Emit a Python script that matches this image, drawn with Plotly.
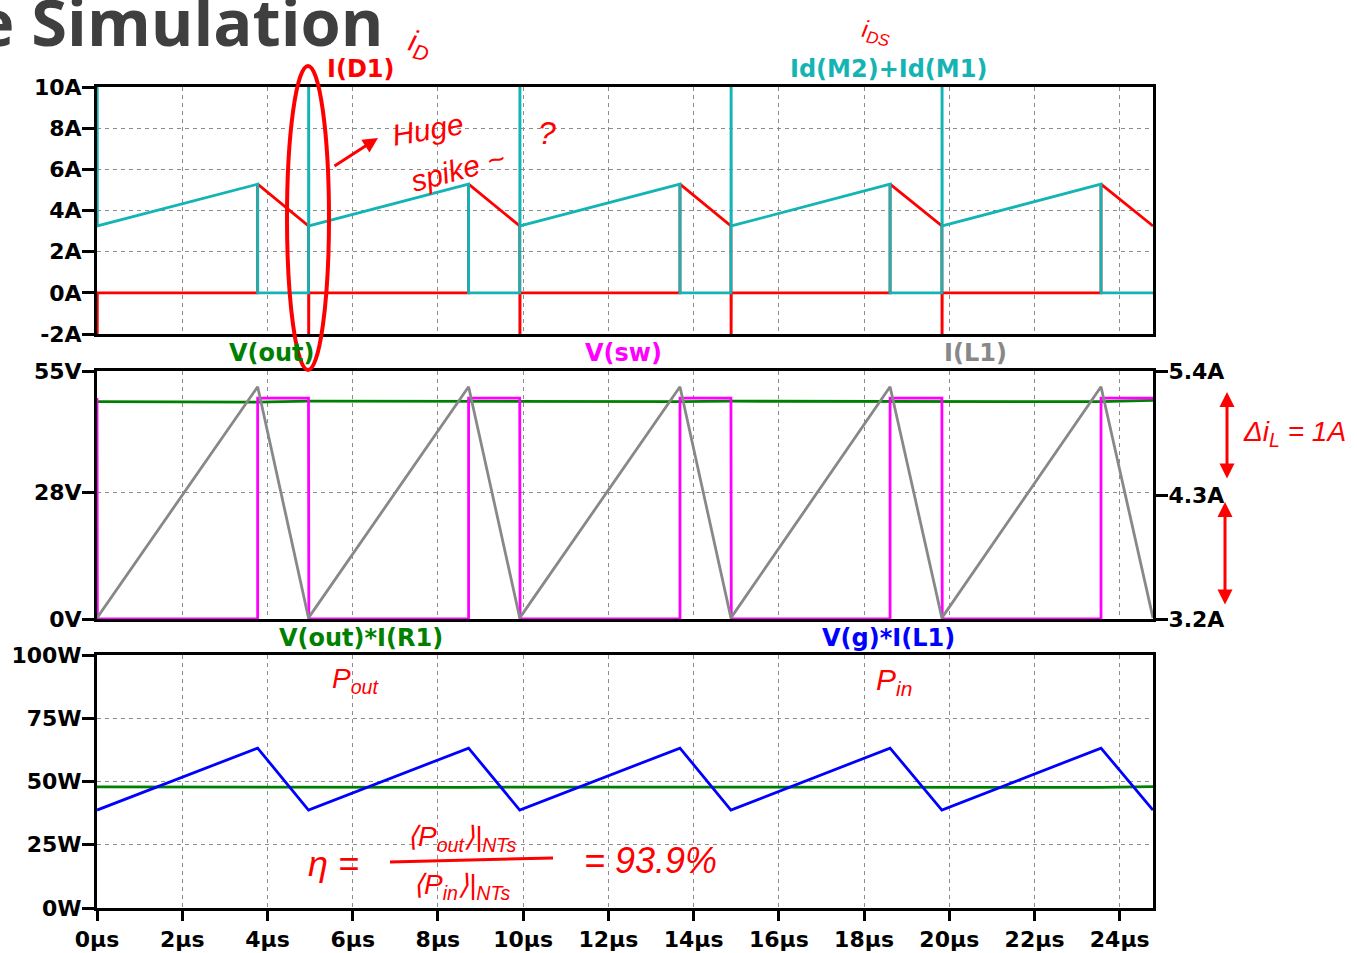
import plotly.graph_objects as go

# ---------------- data ----------------
T_ON = [0.0, 4.963, 9.92, 14.876, 19.826]      # switch turn-on instants (µs)
T_OFF = [3.77, 8.72, 13.68, 18.61, 23.56]      # switch turn-off instants (µs)
T_END = 24.78

# top panel: I(D1) and Id(M2)+Id(M1)
ISW_START = [3.25, 3.25, 3.25, 3.25, 3.25]
ISW_PEAK = [5.28, 5.28, 5.28, 5.28, 5.28]
ID_START = [5.28, 5.28, 5.28, 5.28, 5.28]
ID_END = [3.25, 3.25, 3.25, 3.25, 3.25]
SW_SPIKE = 14.0
D_SPIKE = -4.0

# middle panel
VSW_HIGH = [49.0, 49.0, 49.0, 49.0, 49.0]
VOUT_AT_ON = [48.2, 48.3, 48.3, 48.3, 48.3]
VOUT_AT_OFF = [48.1, 48.2, 48.2, 48.2, 48.2]
VOUT_END = 48.5
IL_MIN = [3.21, 3.21, 3.21, 3.21, 3.21]
IL_MAX = [5.26, 5.26, 5.26, 5.26, 5.26]
IL_END = 3.21

# bottom panel
PIN_MIN = [38.7, 38.7, 38.7, 38.7, 38.7]
PIN_MAX = [63.2, 63.2, 63.2, 63.2, 63.2]
PIN_END = 38.7
POUT_AT_ON = [47.9, 47.8, 47.8, 47.8, 47.8]
POUT_AT_OFF = [47.7, 47.7, 47.7, 47.7, 47.7]
POUT_END = 48.0

X_TICKS = [0, 2, 4, 6, 8, 10, 12, 14, 16, 18, 20, 22, 24]
X_LABELS = [f"{v}µs" for v in X_TICKS]
Y1_TICKS = [-2, 0, 2, 4, 6, 8, 10]
Y1_LABELS = ["-2A", "0A", "2A", "4A", "6A", "8A", "10A"]
Y2_TICKS = [0, 28, 55]
Y2_LABELS = ["0V", "28V", "55V"]
Y4_TICKS = [3.2, 4.3, 5.4]
Y4_LABELS = ["3.2A", "4.3A", "5.4A"]
Y3_TICKS = [0, 25, 50, 75, 100]
Y3_LABELS = ["0W", "25W", "50W", "75W", "100W"]

# ---------------- build waveforms ----------------
n = len(T_ON)
eps = 0.008

sw_t, sw_v = [], []
d_t, d_v = [], []
vs_t, vs_v = [], []
il_t, il_v = [], []
vo_t, vo_v = [], []
pi_t, pi_v = [], []
po_t, po_v = [], []
for k in range(n):
    t0, t1 = T_ON[k], T_OFF[k]
    t2 = T_ON[k + 1] if k + 1 < n else T_END
    if k > 0:
        sw_t.append(t0); sw_v.append(0)
    sw_t += [t0 + eps / 2, t0 + eps, t1, t1, t2]
    sw_v += [SW_SPIKE, ISW_START[k], ISW_PEAK[k], 0, 0]
    d_t += [t0 + eps / 2, t0 + eps, t1, t1, t2]
    d_v += [D_SPIKE, 0, 0, ID_START[k], ID_END[k]]
    if k + 1 < n:
        d_t.append(t2); d_v.append(0)
    if k == 0:
        vs_t.append(t0); vs_v.append(VSW_HIGH[k])
    vs_t += [t0 + eps, t1, t1, t2]
    vs_v += [0, 0, VSW_HIGH[k], VSW_HIGH[k]]
    il_t += [t0, t1]
    il_v += [IL_MIN[k], IL_MAX[k]]
    vo_t += [t0, t1]
    vo_v += [VOUT_AT_ON[k], VOUT_AT_OFF[k]]
    pi_t += [t0, t1]
    pi_v += [PIN_MIN[k], PIN_MAX[k]]
    po_t += [t0, t1]
    po_v += [POUT_AT_ON[k], POUT_AT_OFF[k]]
il_t.append(T_END); il_v.append(IL_END)
vo_t.append(T_END); vo_v.append(VOUT_END)
pi_t.append(T_END); pi_v.append(PIN_END)
po_t.append(T_END); po_v.append(POUT_END)

RED = "#ff0000"
TEAL = "#14b4b4"
MAG = "#ff00ff"
GREEN = "#008000"
GRAY = "#888888"
BLUE = "#0000ff"
LW = 2.8

fig = go.Figure()
fig.add_trace(go.Scatter(x=d_t, y=d_v, mode="lines", line=dict(color=RED, width=LW), xaxis="x", yaxis="y"))
fig.add_trace(go.Scatter(x=sw_t, y=sw_v, mode="lines", line=dict(color=TEAL, width=LW), xaxis="x", yaxis="y"))
fig.add_trace(go.Scatter(x=vo_t, y=vo_v, mode="lines", line=dict(color=GREEN, width=LW), xaxis="x2", yaxis="y2"))
fig.add_trace(go.Scatter(x=vs_t, y=vs_v, mode="lines", line=dict(color=MAG, width=LW), xaxis="x2", yaxis="y2"))
fig.add_trace(go.Scatter(x=il_t, y=il_v, mode="lines", line=dict(color=GRAY, width=LW), xaxis="x2", yaxis="y4"))
fig.add_trace(go.Scatter(x=po_t, y=po_v, mode="lines", line=dict(color=GREEN, width=LW), xaxis="x3", yaxis="y3"))
fig.add_trace(go.Scatter(x=pi_t, y=pi_v, mode="lines", line=dict(color=BLUE, width=LW), xaxis="x3", yaxis="y3"))

W, H = 1357, 953
ML, MR, MT, MB = 97, 204, 87, 45
PW, PH = W - ML - MR, H - MT - MB


def fx(px):
    return (px - ML) / PW


def fy(py):
    return (H - MB - py) / PH


TICKFONT = dict(family="DejaVu Sans", size=22, color="black", weight="bold")
GRID = dict(showgrid=True, gridcolor="#8c8c8c", gridwidth=1, griddash="4px,4px")
AX = dict(showline=True, linecolor="black", linewidth=3, mirror=True, zeroline=False,
          layer="below traces", tickfont=TICKFONT)

xcommon = dict(range=[0, T_END], tickvals=X_TICKS, **GRID, **AX)
YT = dict(ticks="outside", ticklen=12, tickwidth=3, tickcolor="black", ticklabelstandoff=-4)
fig.update_layout(
    xaxis=dict(domain=[0, 1], anchor="y", showticklabels=False, ticks="", **xcommon),
    xaxis2=dict(domain=[0, 1], anchor="y2", showticklabels=False, ticks="", **xcommon),
    xaxis3=dict(domain=[0, 1], anchor="y3", ticktext=X_LABELS, ticks="outside", ticklen=10,
                tickwidth=3, tickcolor="black", **xcommon),
    yaxis=dict(domain=[fy(334), fy(87)], range=[-2, 10], tickvals=Y1_TICKS, ticktext=Y1_LABELS,
               **YT, **GRID, **AX),
    yaxis2=dict(domain=[fy(619), fy(371)], range=[0, 55], tickvals=Y2_TICKS, ticktext=Y2_LABELS,
                **YT, **GRID, **AX),
    yaxis4=dict(overlaying="y2", side="right", anchor="x2", range=[3.2, 5.4], tickvals=Y4_TICKS,
                ticktext=Y4_LABELS, **YT,
                showgrid=False, showline=True, linecolor="black", linewidth=3, zeroline=False,
                layer="below traces", tickfont=TICKFONT),
    yaxis3=dict(domain=[0, fy(655)], range=[0, 100], tickvals=Y3_TICKS, ticktext=Y3_LABELS,
                **YT, **GRID, **AX),
    width=W, height=H,
    margin=dict(l=ML, r=MR, t=MT, b=MB, autoexpand=False),
    paper_bgcolor="white", plot_bgcolor="white",
    showlegend=False,
)

ann = []


def label(text, px, py, color, size=24, **kw):
    ann.append(dict(text=text, x=fx(px), y=fy(py), xref="paper", yref="paper", showarrow=False,
                    xanchor="center", yanchor="middle",
                    font=dict(family="DejaVu Sans", size=size, color=color, weight="bold"), **kw))


# trace labels
label("I(D1)", 361, 69, RED)
label("Id(M2)+Id(M1)", 888, 69, TEAL)
label("V(out)", 272, 353, GREEN)
label("V(sw)", 623, 353, MAG)
label("I(L1)", 975, 353, GRAY)
label("V(out)*I(R1)", 361, 638, GREEN)
label("V(g)*I(L1)", 888, 638, BLUE)

# slide title fragment
ann.append(dict(text="e Simulation", x=fx(386), y=fy(21), xref="paper", yref="paper", showarrow=False,
                xanchor="right", yanchor="middle",
                font=dict(family="Open Sans", size=65, color="#3f3f3f", weight="bold")))


def hand(text, px, py, size=26, angle=0):
    ann.append(dict(text=text, x=fx(px), y=fy(py), xref="paper", yref="paper", showarrow=False,
                    xanchor="center", yanchor="middle", textangle=angle,
                    font=dict(family="Liberation Sans", size=size, color=RED, style="italic")))


hand("i<sub>D</sub>", 420, 44, 30, 15)
hand("i<sub>DS</sub>", 876, 32, 24, 10)
hand("Huge", 428, 130, 30, -10)
hand("spike ~", 458, 170, 30, -15)
hand("?", 547, 133, 32)
hand("Δi<sub>L</sub> = 1A", 1294, 433, 28)
hand("P<sub>out</sub>", 355, 680, 28)
hand("P<sub>in</sub>", 894, 681, 30)
hand("η =", 333, 863, 36)
hand("⟨P<sub>out</sub>⟩|<sub>NTs</sub>", 462, 838, 28)
hand("⟨P<sub>in</sub>⟩|<sub>NTs</sub>", 462, 886, 28)
hand("= 93.9%", 650, 860, 36)


def arrow(x_head, y_head, x_tail, y_tail, both=False):
    ann.append(dict(text="", x=fx(x_head), y=fy(y_head), xref="paper", yref="paper",
                    ax=x_tail - x_head, ay=y_tail - y_head, showarrow=True,
                    arrowhead=2, arrowsize=1, arrowwidth=3, arrowcolor=RED,
                    arrowside="end+start" if both else "end"))


arrow(378, 138, 333, 167)
arrow(1227, 392, 1227, 480, both=True)
arrow(1225, 502, 1225, 606, both=True)

fig.update_layout(annotations=ann)

fig.add_shape(type="circle", xref="paper", yref="paper", x0=fx(287), x1=fx(329), y0=fy(370), y1=fy(66),
              line=dict(color=RED, width=4))
fig.add_shape(type="line", xref="paper", yref="paper", x0=fx(390), x1=fx(553), y0=fy(862), y1=fy(858),
              line=dict(color=RED, width=3))

fig.write_html("out.html", config={"displayModeBar": False},
               post_script="document.body.style.margin='0';document.body.style.overflow='hidden';")
